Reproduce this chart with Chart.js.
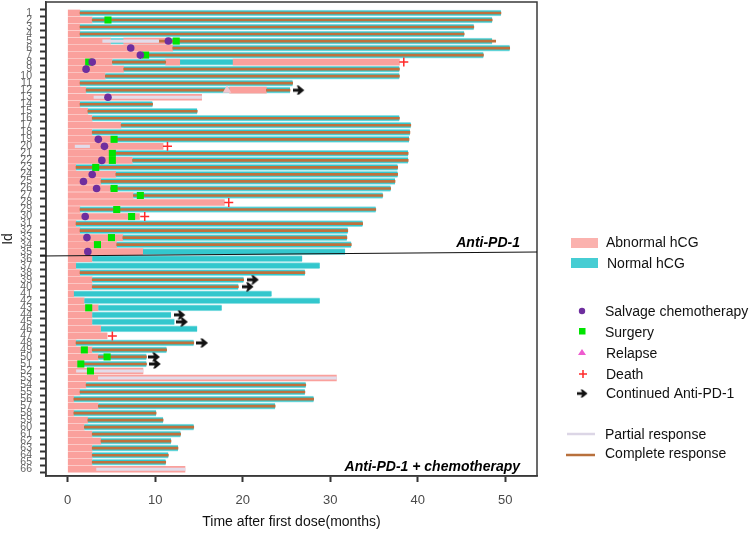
<!DOCTYPE html>
<html><head><meta charset="utf-8">
<script src="https://cdn.jsdelivr.net/npm/chart.js@4/dist/chart.umd.min.js"></script>
<style>html,body{margin:0;padding:0;background:#fff}canvas{display:block}</style>
</head><body>
<canvas id="c" width="750" height="536"></canvas>
<script>
// ---- data ----
const ids = [1,2,3,4,5,6,7,8,9,10,11,12,13,14,15,16,17,18,19,20,21,22,23,24,25,26,27,28,29,30,31,32,33,34,35,36,37,38,39,40,41,42,43,44,45,46,47,48,49,50,51,52,53,54,55,56,57,58,59,60,61,62,63,64,65,66];
// end of first abnormal hCG period (months, starts at 0)
const abnormalEnd = [1.4,2.8,1.4,1.4,4.9,12.0,8.3,5.1,6.4,4.3,
  1.4,2.1,15.3,1.4,2.3,2.8,6.1,2.8,5.3,10.9,
  5.1,7.4,0.95,5.5,3.8,4.9,7.5,17.9,1.4,8.2,
  0.95,1.4,6.3,5.6,8.6,2.8,0.95,1.4,2.8,2.8,
  0.7,1.9,3.5,2.8,2.8,3.8,4.5,0.95,2.8,3.5,
  1.8,8.6,30.7,2.1,1.4,0.7,3.5,0.7,2.3,1.9,
  2.8,3.8,2.8,2.8,2.8,13.4];
// end of normal hCG period (null = none)
const normalEnd = [49.5,48.5,46.4,45.3,48.5,50.5,47.5,18.9,37.9,37.9,
  25.7,25.4,null,9.7,14.8,37.9,39.2,39.1,39.0,null,
  38.9,38.9,37.7,37.7,37.4,36.9,36.0,null,35.2,null,
  33.7,32.0,31.9,32.4,31.7,26.8,28.8,27.1,20.1,19.5,
  23.3,28.8,17.6,11.8,12.2,14.8,null,14.4,11.3,9.0,
  9.0,null,null,27.2,27.1,28.1,23.7,10.1,10.9,14.4,
  12.9,11.8,12.6,11.5,11.2,null];
// later abnormal hCG periods [id, start, end]
const extraAbnormal = [[5,6.4,11.8],[8,11.2,12.8],[8,18.9,37.9],[12,18.5,22.7]];
// responses [id, start, end]
const completeResponse = [[1,1.4,49.5],[2,2.8,48.5],[3,1.4,46.4],[4,1.4,45.3],[5,10.4,48.9],[6,12.0,50.5],[7,8.6,47.5],[8,5.1,11.2],[9,6.4,37.9],[10,4.3,37.9],
  [11,1.4,25.7],[12,2.1,18.2],[12,22.7,25.4],[14,1.4,9.7],[15,2.3,14.8],[16,2.8,37.9],[17,6.1,39.2],[18,2.8,39.1],[19,5.3,39.0],
  [21,5.1,38.9],[22,7.4,38.9],[23,0.95,37.7],[24,5.5,37.7],[25,3.8,37.4],[26,4.9,36.9],[27,7.5,36.0],[29,1.4,35.2],
  [31,0.95,33.7],[32,1.4,32.0],[33,6.3,31.9],[34,5.6,32.4],[38,1.4,27.1],[39,2.8,20.1],[40,2.8,19.5],
  [48,0.95,14.4],[49,2.8,11.3],[50,3.5,9.0],[51,1.8,9.0],[54,2.1,27.2],[55,1.4,27.1],[56,0.7,28.1],[57,3.5,23.7],
  [58,0.7,10.1],[59,2.3,10.9],[60,1.9,14.4],[61,2.8,12.9],[62,3.8,11.8],[63,2.8,12.6],[64,2.8,11.5],[65,2.8,11.2]];
const partialResponse = [[5,4.0,10.4],[13,3.0,15.3],[20,0.85,2.5],[52,1.0,8.6],[53,3.5,30.7],[66,3.3,13.4]];
// events [id, month]
const salvage = [[5,11.5],[6,7.2],[7,8.3],[8,2.8],[9,2.1],[13,4.6],[19,3.5],[20,4.2],[22,3.9],[24,2.8],[25,1.8],[26,3.3],[30,2.0],[33,2.2],[35,2.3]];
const surgery = [[2,4.6],[5,12.4],[7,8.9],[8,2.4],[19,5.3],[21,5.1],[22,5.1],[23,3.2],[26,5.3],[27,8.3],[29,5.6],[30,7.3],[33,5.0],[34,3.4],[43,2.4],[49,1.9],[50,4.5],[51,1.5],[52,2.6]];
const relapse = [[12,18.2]];
const death = [[8,38.4],[20,11.4],[28,18.4],[30,8.8],[47,5.1]];
const continued = [[12,26.4],[39,21.2],[40,20.6],[44,12.8],[45,13.1],[48,15.4],[50,9.9],[51,10.0]];
const xTicks = [0,10,20,30,40,50];
const groupLabels = ['Anti-PD-1','Anti-PD-1 + chemotherapy'];

// ---- style ----
const FONT = "'Liberation Sans', Arial, Helvetica, sans-serif";
Chart.defaults.font.family = FONT;
const PINK = '#FAA09C', TEAL = '#33C7CD', TEAL_EDGE = '#8FE0E3', CR_COL = '#C0703C', PR_COL = '#E2DCEA';
const PURPLE = '#6E2E9E', GREEN = '#00E400', RED = '#FF2A2A';

function makeArrow(){
  const c = document.createElement('canvas'); c.width = 12; c.height = 10;
  const g = c.getContext('2d'); g.fillStyle = '#111';
  g.beginPath(); g.moveTo(0,3.6); g.lineTo(5.5,3.6); g.lineTo(4,0.6); g.lineTo(6,0.6); g.lineTo(11.5,5);
  g.lineTo(6,9.4); g.lineTo(4,9.4); g.lineTo(5.5,6.4); g.lineTo(0,6.4); g.closePath(); g.fill();
  return c;
}
const arrowImg = makeArrow();

const seg = list => list.map(([id,a,b]) => ({y:id, x:[a,b]}));
const pts = list => list.map(([id,x]) => ({x:x, y:id}));
const barBase = {type:'bar', indexAxis:'y', grouped:false, borderSkipped:false};

const datasets = [
  Object.assign({}, barBase, {label:'Abnormal hCG', order:7, barThickness:6, backgroundColor:PINK, borderWidth:0,
    data: ids.map((id,i)=>({y:id, x:[0, abnormalEnd[i]]}))}),
  Object.assign({}, barBase, {label:'Normal hCG', order:6, barThickness:6, backgroundColor:TEAL,
    borderColor:TEAL_EDGE, borderWidth:{top:1,bottom:1,left:0,right:0},
    data: ids.map((id,i)=> normalEnd[i]==null ? null : ({y:id, x:[abnormalEnd[i], normalEnd[i]]})).filter(Boolean)}),
  Object.assign({}, barBase, {label:'Abnormal hCG (later)', order:5, barThickness:6, backgroundColor:PINK, borderWidth:0,
    data: seg(extraAbnormal)}),
  Object.assign({}, barBase, {label:'Partial response', order:4, barThickness:2.5, backgroundColor:PR_COL, borderWidth:0,
    data: seg(partialResponse)}),
  Object.assign({}, barBase, {label:'Complete response', order:4, barThickness:2, backgroundColor:CR_COL, borderWidth:0,
    data: seg(completeResponse)}),
  {type:'scatter', label:'Relapse', order:3, data:pts(relapse), pointStyle:'triangle', pointRadius:5,
    backgroundColor:'#F4C6CE', borderColor:'#F4C6CE', borderWidth:0},
  {type:'scatter', label:'Surgery', order:2, data:pts(surgery), pointStyle:'rect', pointRadius:5,
    backgroundColor:GREEN, borderColor:GREEN, borderWidth:0},
  {type:'scatter', label:'Salvage chemotherapy', order:1, data:pts(salvage), pointStyle:'circle', pointRadius:3.8,
    backgroundColor:PURPLE, borderColor:PURPLE, borderWidth:0},
  {type:'scatter', label:'Death', order:1, data:pts(death), pointStyle:'cross', pointRadius:4.5,
    backgroundColor:RED, borderColor:RED, borderWidth:1.5},
  {type:'scatter', label:'Continued Anti-PD-1', order:1, data:pts(continued), pointStyle:arrowImg, pointRadius:5}
];

const decor = {
  id:'decor',
  afterDraw(chart){
    const {ctx, chartArea:ca, scales:{x, y}} = chart;
    ctx.save();
    // frame
    ctx.strokeStyle = '#3a3a3a'; ctx.lineWidth = 1.5;
    ctx.strokeRect(ca.left, ca.top, ca.right - ca.left, ca.bottom - ca.top);
    // group divider
    ctx.strokeStyle = '#111'; ctx.lineWidth = 1.2;
    ctx.beginPath(); ctx.moveTo(ca.left - 6, y.getPixelForValue(35.62)); ctx.lineTo(ca.right, y.getPixelForValue(35.05)); ctx.stroke();
    // group labels
    ctx.fillStyle = '#000'; ctx.font = "italic bold 14px " + FONT; ctx.textAlign = 'right'; ctx.textBaseline = 'middle';
    ctx.fillText(groupLabels[0], ca.right - 17, y.getPixelForValue(33.85));
    ctx.fillText(groupLabels[1], ca.right - 17, y.getPixelForValue(65.7));
    // legend
    ctx.font = "14px " + FONT; ctx.textAlign = 'left'; ctx.fillStyle = '#111';
    const tx = 605;
    ctx.fillStyle = '#FBB2AE'; ctx.fillRect(571, 238, 27, 10);
    ctx.fillStyle = '#46CDD3'; ctx.fillRect(571, 258, 27, 10);
    ctx.fillStyle = '#111';
    ctx.fillText('Abnormal hCG', 606, 243);
    ctx.fillText('Normal hCG', 607, 264);
    // markers
    ctx.fillStyle = PURPLE; ctx.beginPath(); ctx.arc(582, 311, 3.2, 0, Math.PI*2); ctx.fill();
    ctx.fillStyle = GREEN; ctx.fillRect(579, 328, 6.5, 6.5);
    ctx.fillStyle = '#EE5BCF'; ctx.beginPath(); ctx.moveTo(582, 349); ctx.lineTo(586, 355); ctx.lineTo(578, 355); ctx.closePath(); ctx.fill();
    ctx.strokeStyle = RED; ctx.lineWidth = 1.5; ctx.beginPath(); ctx.moveTo(579, 374); ctx.lineTo(587, 374); ctx.moveTo(583, 370); ctx.lineTo(583, 378); ctx.stroke();
    ctx.drawImage(arrowImg, 577, 389, 11, 9);
    ctx.fillStyle = '#111';
    ctx.fillText('Salvage chemotherapy', tx, 312);
    ctx.fillText('Surgery', tx, 333);
    ctx.fillText('Relapse', 606, 354);
    ctx.fillText('Death', 606, 375);
    ctx.fillText('Continued Anti-PD-1', 606, 394);
    ctx.lineWidth = 2.5;
    ctx.strokeStyle = '#DCD6E6'; ctx.beginPath(); ctx.moveTo(567, 434); ctx.lineTo(595, 434); ctx.stroke();
    ctx.strokeStyle = '#B8703C'; ctx.beginPath(); ctx.moveTo(566, 455); ctx.lineTo(595, 455); ctx.stroke();
    ctx.fillText('Partial response', tx, 435);
    ctx.fillText('Complete response', tx, 454);
    ctx.restore();
  }
};

new Chart(document.getElementById('c'), {
  type:'bar',
  data:{datasets},
  plugins:[decor],
  options:{
    indexAxis:'y',
    responsive:false,
    animation:false,
    events:[],
    layout:{autoPadding:false, padding:{top:2, right:213, left:0, bottom:0}},
    plugins:{legend:{display:false}, tooltip:{enabled:false}},
    scales:{
      x:{type:'linear', min:-2.48, max:53.62,
        afterBuildTicks(s){ s.ticks = xTicks.map(v=>({value:v})); },
        afterFit(s){ s.height = 60; s.paddingLeft = 0; s.paddingRight = 0; },
        grid:{drawOnChartArea:false, drawTicks:true, tickLength:6, tickWidth:2, tickColor:'#333'},
        border:{display:true, color:'#3a3a3a', width:1.5},
        ticks:{color:'#4a4a4a', font:{size:13}, padding:11, maxRotation:0},
        title:{display:true, text:'Time after first dose(months)', color:'#111', font:{size:14}, padding:{top:0, bottom:5}}
      },
      y:{type:'linear', reverse:true, min:-0.052, max:66.45,
        afterBuildTicks(s){ s.ticks = ids.map(v=>({value:v})); },
        afterFit(s){ s.width = 46; s.paddingTop = 0; s.paddingBottom = 0; },
        grid:{drawOnChartArea:false, drawTicks:true, tickLength:6, tickWidth:2, tickColor:'#333'},
        border:{display:true, color:'#3a3a3a', width:1.5},
        ticks:{color:'#666', font:{size:10.5}, padding:8, autoSkip:false, callback:v=>String(v)},
        title:{display:true, text:'Id', color:'#222', font:{size:14}, padding:{top:0, bottom:0}}
      }
    }
  }
});
</script>
</body></html>
